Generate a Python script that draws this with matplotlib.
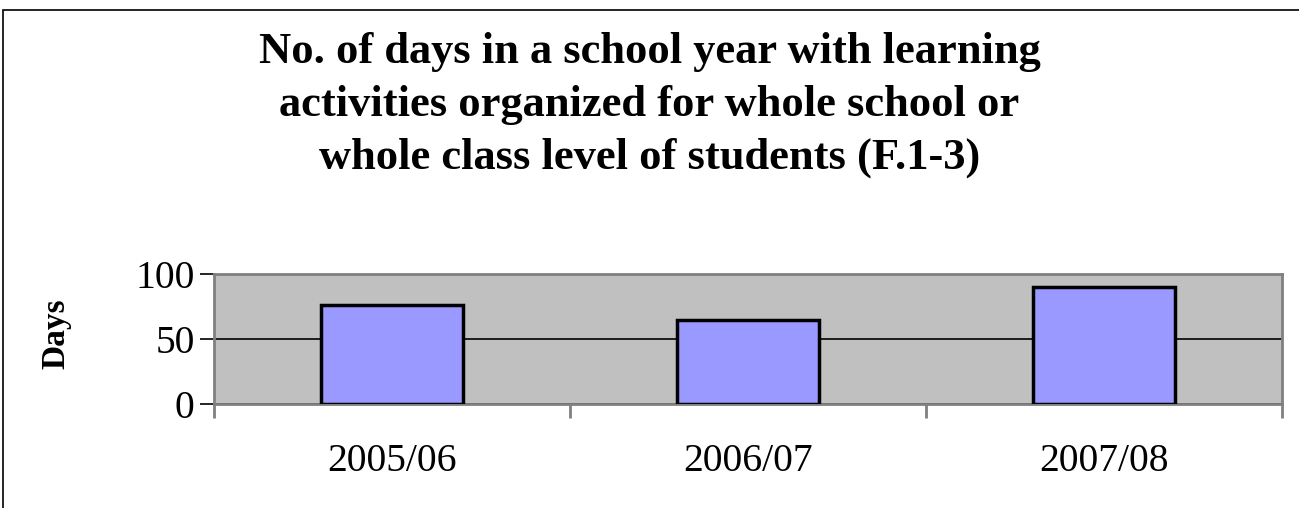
import matplotlib.pyplot as plt
from matplotlib.patches import Rectangle

years = ["2005/06", "2006/07", "2007/08"]
days = [76, 65, 90]
y_ticks = [0, 50, 100]

plt.rcParams['font.family'] = ['Liberation Serif', 'DejaVu Serif']

fig = plt.figure(figsize=(12.99, 5.08), dpi=100)
ax = fig.add_axes([214 / 1299, 1 - 404 / 508, (1282 - 214) / 1299, 130 / 508])

# chart area border (cut off on the right and bottom)
fig.patches.append(Rectangle((3 / 1299, -0.1), 1.2, 1 - 10 / 508 + 0.1,
                             transform=fig.transFigure, fill=False,
                             edgecolor='black', linewidth=1.2))

x = range(len(years))
ax.bar(x, days, width=0.4, color='#9999ff', edgecolor='black', linewidth=2.5, zorder=3)

ax.set_facecolor('#c0c0c0')
ax.set_xlim(-0.5, 2.5)
ax.set_ylim(0, 100)
ax.set_yticks(y_ticks)
ax.yaxis.grid(True, color='black', linewidth=1.2, zorder=1)
ax.set_axisbelow(True)

for side in ['top', 'right', 'left', 'bottom']:
    ax.spines[side].set_color('#808080')
    ax.spines[side].set_linewidth(2)

ax.set_xticks([-0.5, 0.5, 1.5, 2.5], minor=False)
ax.set_xticklabels([])
ax.set_xticks(list(x), minor=True)
ax.set_xticklabels(years, minor=True)
ax.tick_params(axis='x', which='major', length=10, width=2, color='#808080', direction='out')
ax.tick_params(axis='x', which='minor', length=0, labelsize=28.5, pad=28)
ax.tick_params(axis='y', length=10, width=1.2, color='black', direction='out', labelsize=28.5, pad=4)

fig.text(56 / 1299, 1 - 334 / 508, "Days", rotation=90, ha='center', va='center',
         fontsize=24, fontweight='bold')

fig.text(0.5, 1 - 105 / 508,
         "No. of days in a school year with learning\nactivities organized for whole school or\nwhole class level of students (F.1-3)",
         ha='center', va='center', fontsize=32, fontweight='bold', linespacing=1.42)

plt.savefig('out.png')
